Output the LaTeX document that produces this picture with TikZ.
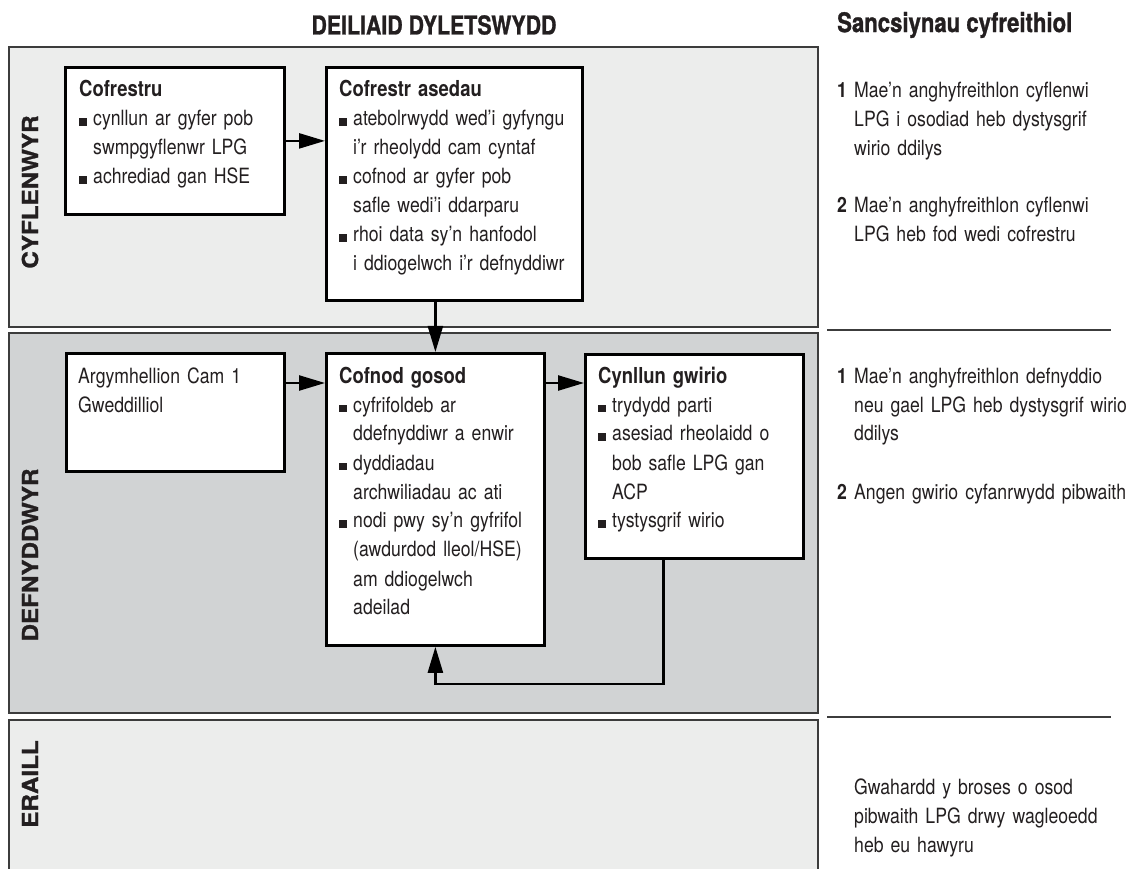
\documentclass[tikz,border=0pt]{standalone}
\usepackage{fontspec}
\setmainfont{TeX Gyre Heros}[FakeStretch=0.84]
\newfontfamily\heavyfont{texgyreheros-bold.otf}[FakeBold=1,FakeStretch=0.82]
\newfontfamily\lanefont{texgyreheros-bold.otf}[FakeBold=1.2,FakeStretch=1.1]
\usetikzlibrary{arrows.meta}
\definecolor{bandlight}{HTML}{ECEDEC}
\definecolor{banddark}{HTML}{D1D3D4}
\definecolor{edge}{HTML}{3C3C3C}
\definecolor{ink}{HTML}{231F20}
\newcommand{\bul}{\makebox[14pt][l]{\rule{7.5pt}{7.5pt}}}
\newcommand{\ind}{\hspace*{14pt}}
\newcommand{\hd}[1]{{\bfseries\fontsize{22}{29}\selectfont #1}}
\newcommand{\sancnum}[1]{\makebox[17pt][l]{\bfseries #1}}
\newcommand{\sind}{\hspace*{17pt}}

\begin{document}
\begin{tikzpicture}[x=1pt,y=-1pt,
    box/.style={draw=black,line width=2.8pt,fill=white,inner sep=0,anchor=north west},
    txt/.style={text=ink,font=\fontsize{21}{29}\selectfont,align=left,inner sep=0,
        anchor=base west,text width=#1},
    txt/.default=260pt,
    band/.style={draw=edge,line width=1.5pt},
    lane/.style={rotate=90,text=ink,font=\lanefont\fontsize{22}{22}\selectfont},
    arr/.style={line width=2.4pt,-{Triangle[length=26pt,width=15pt]}}]
    \useasboundingbox (0,0) rectangle (1128,869);
    \clip (0,0) rectangle (1128,869);

    % Headings
    \node[text=ink,font=\heavyfont\fontsize{26}{26}\selectfont] (deiliaid) at (434,25) {DEILIAID DYLETSWYDD};
    \node[text=ink,font=\heavyfont\fontsize{27}{27}\selectfont,anchor=west,inner sep=0] (sancsiynau) at (837,25) {Sancsiynau cyfreithiol};

    % Bands
    \filldraw[band,fill=bandlight] (9,47) rectangle (818,327);
    \filldraw[band,fill=banddark] (9,333) rectangle (818,713);
    \filldraw[band,fill=bandlight] (9,720) rectangle (818,890);
    \node[lane] (cyflenwyr) at (30,192) {CYFLENWYR};
    \node[lane] (defnyddwyr) at (30,555) {DEFNYDDWYR};
    \node[lane] (eraill) at (30,784) {ERAILL};
    \draw[line width=1.4pt,edge] (827,330) -- (1111,330);
    \draw[line width=1.4pt,edge] (827,717) -- (1111,717);

    % Cyflenwyr
    \node[box,minimum width=219pt,minimum height=147pt] (cofrestru) at (64,66) {};
    \node[txt] (cofrestru-txt) at ([shift={(15,31)}]cofrestru.north west) {\hd{Cofrestru}\\
        \bul cynllun ar gyfer pob\\
        \ind swmpgyflenwr LPG\\
        \bul achrediad gan HSE};
    \node[box,minimum width=256pt,minimum height=233pt] (asedau) at (325,66) {};
    \node[txt] (asedau-txt) at ([shift={(14,31)}]asedau.north west) {\hd{Cofrestr asedau}\\
        \bul atebolrwydd wed'i gyfyngu\\
        \ind i'r rheolydd cam cyntaf\\
        \bul cofnod ar gyfer pob\\
        \ind safle wedi'i ddarparu\\
        \bul rhoi data sy'n hanfodol\\
        \ind i ddiogelwch i'r defnyddiwr};

    % Defnyddwyr
    \node[box,minimum width=218pt,minimum height=118pt] (argym) at (65,352) {};
    \node[txt] (argym-txt) at ([shift={(13,31)}]argym.north west) {Argymhellion Cam 1\\
        Gweddilliol};
    \node[box,minimum width=218pt,minimum height=292pt] (gosod) at (325,352) {};
    \node[txt] (gosod-txt) at ([shift={(14,31)}]gosod.north west) {\hd{Cofnod gosod}\\
        \bul cyfrifoldeb ar\\
        \ind ddefnyddiwr a enwir\\
        \bul dyddiadau\\
        \ind archwiliadau ac ati\\
        \bul nodi pwy sy'n gyfrifol\\
        \ind (awdurdod lleol/HSE)\\
        \ind am ddiogelwch\\
        \ind adeilad};
    \node[box,minimum width=218pt,minimum height=204pt] (gwirio) at (584,353) {};
    \node[txt] (gwirio-txt) at ([shift={(14,30)}]gwirio.north west) {\hd{Cynllun gwirio}\\
        \bul trydydd parti\\
        \bul asesiad rheolaidd o\\
        \ind bob safle LPG gan\\
        \ind ACP\\
        \bul tystysgrif wirio};

    % Connectors
    \draw[arr] (cofrestru.east) -- (cofrestru.east -| asedau.west);
    \draw[arr] (gosod.north |- asedau.south) -- (gosod.north);
    \coordinate (argym-out) at ([yshift=-31pt]argym.north east);
    \draw[arr] (argym-out) -- (argym-out -| gosod.west);
    \coordinate (gosod-out) at ([yshift=-31pt]gosod.north east);
    \draw[arr] (gosod-out) -- (gosod-out -| gwirio.west);
    \coordinate (gwirio-out) at ([xshift=-31pt]gwirio.south);
    \coordinate (loop-turn) at ([yshift=-37pt]gosod.south);
    \draw[arr] (gwirio-out) |- (loop-turn) -- (gosod.south);

    % Sancsiynau
    \node[txt=290pt] (sanc1a) at (837,98) {\sancnum{1}Mae'n anghyfreithlon cyflenwi\\
        \sind LPG i osodiad heb dystysgrif\\
        \sind wirio ddilys};
    \node[txt=290pt] (sanc1b) at (837,213) {\sancnum{2}Mae'n anghyfreithlon cyflenwi\\
        \sind LPG heb fod wedi cofrestru};
    \node[txt=290pt] (sanc2a) at (837,383) {\sancnum{1}Mae'n anghyfreithlon defnyddio\\
        \sind neu gael LPG heb dystysgrif wirio\\
        \sind ddilys};
    \node[txt=290pt] (sanc2b) at (837,499) {\sancnum{2}Angen gwirio cyfanrwydd pibwaith};
    \node[txt=290pt] (sanc3) at (854,794) {Gwahardd y broses o osod\\
        pibwaith LPG drwy wagleoedd\\
        heb eu hawyru};
\end{tikzpicture}
\end{document}
